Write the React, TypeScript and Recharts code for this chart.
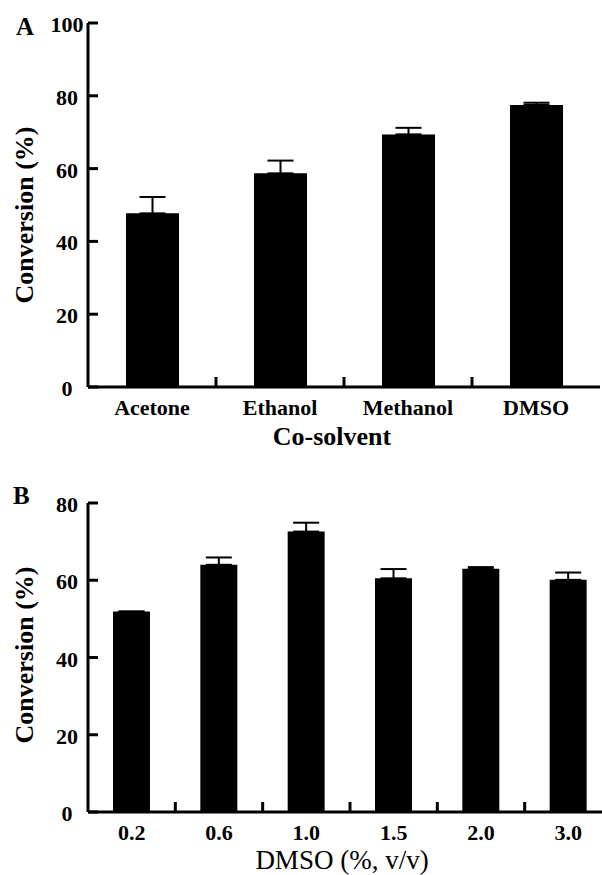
import { BarChart, Bar, XAxis, YAxis, ErrorBar } from "recharts";

const FONT = '"Liberation Serif", "Times New Roman", serif';

// Panel A: co-solvent screening
const solvents = ["Acetone", "Ethanol", "Methanol", "DMSO"];
const solventConv = [47.7, 58.7, 69.4, 77.5];
const solventErr = [4.5, 3.5, 1.8, 0.6];
const solventTicks = [0, 20, 40, 60, 80, 100];

// Panel B: DMSO concentration
const dmsoLevels = ["0.2", "0.6", "1.0", "1.5", "2.0", "3.0"];
const dmsoConv = [51.9, 64.0, 72.6, 60.5, 63.0, 60.1];
const dmsoErr = [0, 1.9, 2.3, 2.4, 0.4, 1.9];
const dmsoTicks = [0, 20, 40, 60, 80];

const AXIS = { stroke: "#000", strokeWidth: 3 };

const CatTick = (props: any) => {
  const { x, y, payload, index, band, textDy } = props;
  return (
    <g>
      {index > 0 && (
        <line
          x1={x - band / 2}
          x2={x - band / 2}
          y1={y}
          y2={y - 10}
          stroke="#000"
          strokeWidth={3}
        />
      )}
      <text
        x={x}
        y={y + textDy}
        textAnchor="middle"
        fontFamily={FONT}
        fontWeight="bold"
        fontSize={22}
        fill="#000"
      >
        {payload.value}
      </text>
    </g>
  );
};

const ValTick = (props: any) => {
  const { x, y, payload } = props;
  return (
    <g>
      <line x1={x} x2={x + 10} y1={y} y2={y} stroke="#000" strokeWidth={3} />
      <text
        x={x - 21}
        y={y + 9}
        textAnchor="middle"
        fontFamily={FONT}
        fontWeight="bold"
        fontSize={22}
        fill="#000"
      >
        {payload.value}
      </text>
    </g>
  );
};

interface PanelProps {
  letter: string;
  letterPos: [number, number];
  cats: string[];
  conv: number[];
  err: number[];
  ticks: number[];
  width: number;
  height: number;
  top: number;
  marginTop: number;
  xAxisHeight: number;
  barSize: number;
  tickDy: number;
  xTitle: string;
  xTitleBold: boolean;
  xTitleSize: number;
  xTitleDx: number;
  xTitleDy: number;
  yTitleDy: number;
}

const Panel = (p: PanelProps) => {
  const data = p.cats.map((name, i) => ({
    name,
    conv: p.conv[i],
    err: [0, p.err[i]],
  }));
  const left = 88;
  const right = 2;
  const band = (p.width - left - right) / p.cats.length;

  return (
    <div style={{ position: "absolute", left: 0, top: p.top }}>
      <BarChart
        width={p.width}
        height={p.height}
        data={data}
        margin={{ top: p.marginTop, right, bottom: 0, left: 0 }}
        style={{ fontFamily: FONT }}
      >
        <XAxis
          dataKey="name"
          height={p.xAxisHeight}
          axisLine={AXIS}
          tickLine={false}
          tickSize={0}
          tickMargin={0}
          interval={0}
          tick={(t: any) => <CatTick {...t} band={band} textDy={p.tickDy} />}
          label={{
            content: ({ viewBox }: any) => (
              <text
                x={viewBox.x + viewBox.width / 2 + p.xTitleDx}
                y={viewBox.y + p.xTitleDy}
                textAnchor="middle"
                fontFamily={FONT}
                fontWeight={p.xTitleBold ? "bold" : "normal"}
                fontSize={p.xTitleSize}
                fill="#000"
              >
                {p.xTitle}
              </text>
            ),
          }}
        />
        <XAxis
          xAxisId="top"
          dataKey="name"
          orientation="top"
          height={0}
          axisLine={AXIS}
          tickLine={false}
          tick={false}
        />
        <YAxis
          width={left}
          domain={[0, p.ticks[p.ticks.length - 1]]}
          ticks={p.ticks}
          axisLine={AXIS}
          tickLine={false}
          tickSize={0}
          tickMargin={0}
          tick={(t: any) => <ValTick {...t} />}
          label={{
            content: ({ viewBox }: any) => {
              const cx = 33;
              const cy = viewBox.y + viewBox.height / 2 + p.yTitleDy;
              return (
                <g>
                  <text
                    x={p.letterPos[0]}
                    y={p.letterPos[1]}
                    fontFamily={FONT}
                    fontWeight="bold"
                    fontSize={25}
                    fill="#000"
                  >
                    {p.letter}
                  </text>
                  <text
                    x={cx}
                    y={cy}
                    transform={`rotate(-90 ${cx} ${cy})`}
                    textAnchor="middle"
                    fontFamily={FONT}
                    fontWeight="bold"
                    fontSize={26}
                    fill="#000"
                  >
                    Conversion (%)
                  </text>
                </g>
              );
            },
          }}
        />
        <YAxis
          yAxisId="right"
          orientation="right"
          width={0}
          domain={[0, 1]}
          axisLine={AXIS}
          tickLine={false}
          tick={false}
        />
        <Bar dataKey="conv" fill="#000" barSize={p.barSize} isAnimationActive={false}>
          <ErrorBar
            dataKey="err"
            direction="y"
            width={13}
            stroke="#000"
            strokeWidth={2}
            isAnimationActive={false}
          />
        </Bar>
      </BarChart>
    </div>
  );
};

export default function App() {
  return (
    <div
      style={{
        position: "absolute",
        left: 0,
        top: 0,
        width: 602,
        height: 875,
        overflow: "hidden",
        background: "#fff",
      }}
    >
      <Panel
        letter="A"
        letterPos={[16, 35]}
        cats={solvents}
        conv={solventConv}
        err={solventErr}
        ticks={solventTicks}
        width={602}
        height={455}
        top={0}
        marginTop={23}
        xAxisHeight={68}
        barSize={53}
        tickDy={28}
        xTitle="Co-solvent"
        xTitleBold={true}
        xTitleSize={26}
        xTitleDx={-12}
        xTitleDy={58}
        yTitleDy={10}
      />
      <Panel
        letter="B"
        letterPos={[13, 49]}
        cats={dmsoLevels}
        conv={dmsoConv}
        err={dmsoErr}
        ticks={dmsoTicks}
        width={614}
        height={420}
        top={455}
        marginTop={48}
        xAxisHeight={63}
        barSize={37}
        tickDy={28}
        xTitle="DMSO (%, v/v)"
        xTitleBold={false}
        xTitleSize={27}
        xTitleDx={-8}
        xTitleDy={57}
        yTitleDy={-2.5}
      />
    </div>
  );
}
